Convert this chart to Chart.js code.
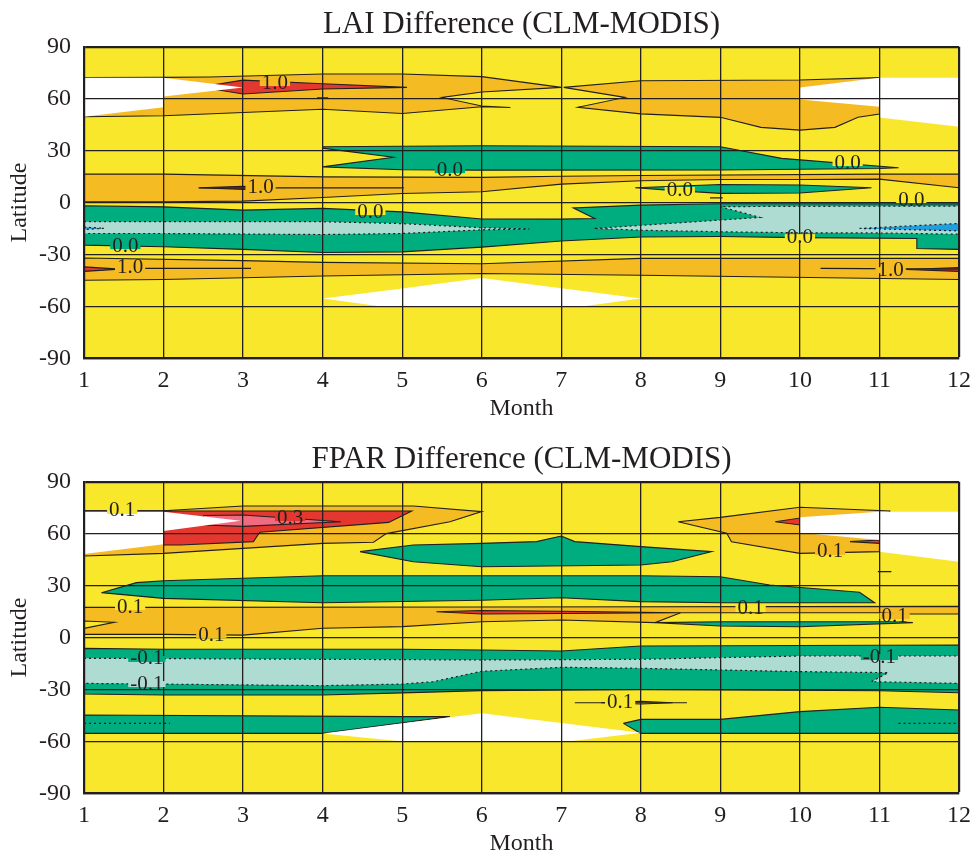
<!DOCTYPE html>
<html>
<head>
<meta charset="utf-8">
<script src="https://cdn.jsdelivr.net/npm/chart.js@4.4.1/dist/chart.umd.min.js"></script>
<style>
  body { margin: 0; background: #fff; overflow: hidden; }
  canvas { display: block; }
</style>
</head>
<body>
<canvas id="lai" width="974" height="435"></canvas>
<canvas id="fpar" width="974" height="435"></canvas>
<script>
// axes
const MONTHS = [1, 2, 3, 4, 5, 6, 7, 8, 9, 10, 11, 12];
const LAT_TICKS = [-90, -60, -30, 0, 30, 60, 90];
const plotFrame = [[1, -90], [12, -90], [12, 90], [1, 90]];

// ---- LAI difference: contour regions as [month, latitude] outlines ----
const laiOrangeNorthWest = [[1, 49.5], [1, 72.2], [2, 72.3], [2.58, 72.5], [4, 74.2], [5, 74.2], [6, 72.7], [7, 66.5], [6, 63.8], [5.5, 60.7], [6, 55.7], [6.36, 54.9], [6, 55.3], [5, 51.4], [4, 53.9], [2, 50.1]];
const laiOrangeNorthEast = [[7.03, 66.5], [8, 70.3], [10, 70.8], [11, 72.1], [11, 51.1], [10.73, 49.2], [10.44, 43.4], [10, 41.8], [9.51, 43.4], [9, 49.2], [8, 51.2], [7.21, 55], [7.8, 60.7]];
const laiOrangeEquator = [[1, 16.4], [2, 16.4], [4, 14.8], [6, 14.5], [7, 15.2], [8, 15.6], [11, 16.4], [12, 16.4], [12, 8.5], [11, 13.5], [10, 13.3], [9, 13.3], [8, 12.6], [7, 10.6], [6, 6.2], [5, 5.2], [4, 2.9], [3, 0.8], [2, 0.4], [1, 0.4]];
const laiOrangeSouth = [[1, -32.1], [3, -33.6], [4, -34.6], [6, -35.4], [8, -32.3], [12, -32.3], [12, -44.5], [8, -42], [6, -41], [4, -42.5], [2, -44.5], [1, -44.9]];
const laiRedNorth = [[2.46, 66.7], [3, 70.7], [4, 68.6], [5.06, 66.5], [4, 65.6], [3, 62.7]];
const laiRedEquator = [[2.45, 8.5], [3, 9.4], [3.4, 8.6], [3, 7.6]];
const laiRedSouthWest = [[1, -37.2], [1.45, -38.5], [1, -39.8]];
const laiRedSouthEast = [[11.34, -38.7], [12, -37.6], [12, -39.8]];
const laiGreenNorth = [[4, 32.2], [6, 32.8], [9, 32.2], [9.77, 25.5], [11.24, 20.1], [11, 19.6], [9, 18.8], [6, 18.7], [5, 18.9], [4, 20.6], [4.89, 26.1], [4, 31.4]];
const laiGreenEquator = [[7.93, 8.5], [9, 10.4], [10, 10.1], [10.9, 8.5], [10, 5.5], [9, 5.3], [8.3, 7.3]];
const laiGreenSouth = [[1, -1.9], [2, -2.5], [3, -4.4], [4, -3.4], [5, -5.4], [6, -9.5], [7, -9.6], [7.42, -9.2], [7.15, -3.1], [8, -1.5], [9, -0.7], [12, -0.8], [12, -27.1], [11.47, -26.6], [11.47, -20.8], [10, -20.3], [9, -19.6], [8, -19.9], [7, -22.2], [6, -25.8], [5, -28.5], [4, -28.9], [3, -27.1], [2, -25.6], [1, -24.6]];
const laiTealWest = [[1, -11.1], [4, -11.1], [5, -12.2], [6, -14.6], [6.6, -15.3], [6, -15.8], [5, -17.9], [4, -18.5], [2, -17.9], [1, -17.9]];
const laiTealEast = [[7.42, -15], [9.5, -8.6], [9, -2.4], [10, -2.2], [12, -2.1], [12, -18.3], [11, -17.6], [10, -17.5], [9, -16.9], [8, -16]];
const laiBlueWest = [[1, -14.2], [1.25, -14.9], [1, -15.6]];
const laiBlueEast = [[10.75, -15], [12, -12.1], [12, -16.4]];
const laiWhiteNorthWest = [[1, 72], [2, 72], [3, 66.5], [2, 61.2], [2, 55], [1, 49.5]];
const laiWhiteNorthEast = [[10, 66.5], [11, 72.1], [12, 72.1], [12, 43.7], [11, 49.1], [11, 55.3], [10, 59.5]];
const laiWhiteSouth = [[4, -55.4], [5, -49.7], [6, -43.6], [8, -55.4], [7.28, -60], [4.72, -60]];
const laiMarks = [
  [[3.93, 60.5], [4.07, 60.5]],
  [[8.87, 2.7], [9.03, 2.7]],
  [[2.44, 8.5], [5.02, 8.5]],
  [[1.4, -38], [3.1, -38.1]],
  [[10.26, -38.1], [12, -38.5]]
];
const laiLabels = [
  ['1.0', 3.4, 69.0], ['1.0', 3.22, 8.9], ['1.0', 1.58, -37.8], ['1.0', 11.14, -39.1],
  ['0.0', 5.6, 18.7], ['0.0', 8.49, 7.2], ['0.0', 10.6, 22.8], ['0.0', 11.4, 1.4],
  ['0.0', 4.6, -5.5], ['0.0', 1.52, -25.2], ['0.0', 10.0, -20]
];

// ---- FPAR difference ----
const fparOrangeNorthWest = [[1, 47.1], [1, 73.2], [2, 73.2], [3, 76], [5.14, 76], [6, 72.7], [5.6, 66.9], [4.8, 60], [4.64, 55], [4, 54.4], [2, 48.6]];
const fparOrangeNorthEast = [[8.47, 66.9], [9, 69.4], [10, 75.2], [11.13, 73.1], [11, 60], [11, 49.6], [10, 48.6], [9.14, 55.3], [9.08, 60.2]];
const fparOrangeEquator = [[1, 17.4], [2, 17.4], [6, 17.6], [12, 18], [12, 13.6], [11.3, 13.6], [11, 14.3], [8.5, 14.3], [8.18, 8.6], [7, 10.1], [6, 9.1], [5, 6.3], [4, 5.3], [3, 1.4], [2, 1.8], [1, 1.8]];
const fparOrangeSouth = [[7.5, -37.7], [8, -36.9], [8.4, -37.7], [8, -38.4]];
const fparYellowWedge = [[1, 9.5], [1.38, 8.8], [1, 5.3]];
const fparRedNorthWest = [[2, 73.1], [5.12, 73.1], [4.83, 66.5], [3.21, 60.8], [3.13, 55.4], [2.21, 53.4], [2, 53.5]];
const fparPinkNorth = [[2.5, 70.5], [3, 70.8], [4.23, 66.9], [3, 64.2], [2.5, 65]];
const fparRedNorthEastA = [[9.69, 66.9], [10, 69], [10, 65]];
const fparRedNorthEastB = [[10.63, 55.4], [11, 56.3], [11, 54.4]];
const fparRedEquator = [[5.43, 14.9], [6, 15.6], [7, 15.2], [8.5, 14.3], [7, 13.9], [6, 13.6]];
const fparGreenNorth = [[4.47, 49.6], [5.14, 53.4], [6, 54.4], [6.69, 55.4], [7, 58.6], [7.17, 55.4], [8, 52.5], [8.89, 49.6], [8.39, 43.8], [8, 41.9], [6, 40.9], [5.14, 43.8]];
const fparGreenMid = [[1.22, 25.9], [1.66, 31.7], [2, 32.8], [4, 35.7], [8, 35.7], [9, 35.1], [9.62, 30.3], [10.75, 26.1], [10.94, 20.1], [9, 20.1], [8, 20.7], [7, 23], [6, 21.5], [4, 20.1], [2, 22.6]];
const fparGreenEquator = [[8.18, 8.6], [9, 9.1], [11.13, 9.1], [11.42, 8.6], [10, 6.2], [9, 6.6]];
const fparGreenSouth = [[1, -6.3], [2, -6.8], [5, -6.8], [6, -7.2], [7, -7.8], [8, -4.9], [12, -4.3], [12, -31.9], [11, -30.8], [8, -30], [6, -30.7], [5, -32], [4, -33.2], [2, -33.2], [1, -32.6]];
const fparTealSouth = [[1, -12], [6, -13], [8, -12.6], [10, -10.7], [12, -10.7], [12, -26.5], [10.9, -25.5], [11.11, -20.3], [10, -19.7], [8, -17.8], [7, -17.2], [6, -19.5], [5.39, -25.5], [5, -26.9], [4, -27.8], [1, -26.5]];
const fparGreenSouthWest = [[1, -44.8], [5, -45.7], [5.6, -45.7], [4, -55.4], [1, -55.4]];
const fparGreenSouthEast = [[7.78, -49.6], [8, -47.3], [9, -47.3], [10, -42.8], [11, -40.3], [12, -41.9], [12, -55.4], [8, -55.4]];
const fparWhiteNorthWest = [[1, 72.7], [2, 72.7], [2.97, 67.5], [2, 61.5], [2, 53.8], [1, 48.2]];
const fparWhiteNorthEast = [[10, 69.4], [11, 72.7], [12, 72.7], [12, 43.8], [11, 49.6], [11, 56.3], [10, 60.5]];
const fparWhiteSouth = [[4, -55.4], [5, -49.6], [6, -43.8], [8, -55], [7.11, -60], [4.98, -60]];
const fparMarks = [
  [[1, 73.2], [2.1, 73.2]],
  [[10.98, 38], [11.15, 38]],
  [[7.17, -37.7], [8.58, -37.7]]
];
const fparDashed = [
  [[1, -49.6], [2.08, -49.6]],
  [[11.24, -49.6], [12, -49.6]]
];
const fparLabels = [
  ['0.1', 1.48, 73.1], ['0.3', 3.59, 69.0], ['0.1', 1.58, 17.6], ['0.1', 2.6, 1.4],
  ['-0.1', 1.79, -12.4], ['-0.1', 1.79, -26.9], ['0.1', 9.38, 16.5], ['0.1', 11.19, 12.4],
  ['0.1', 10.38, 49.4], ['-0.1', 11.0, -11.3], ['0.1', 7.74, -37.3]
];

const SERIF = '"Liberation Serif", "Times New Roman", Times, serif';
const INK = '#231f20';
const COL = {
  yellow: '#f9e72c',
  orange: '#f5bb22',
  red: '#e4372f',
  pink: '#f06a80',
  green: '#00ad7e',
  teal: '#aedcd3',
  blue: '#1f9fe0',
  white: '#ffffff'
};

const toXY = pts => pts.map(p => ({ x: p[0], y: p[1] }));

// filled contour region, closed back onto its first vertex
function region(pts, color, opts) {
  return Object.assign({
    data: toXY(pts.concat([pts[0]])),
    showLine: true,
    fill: 'shape',
    backgroundColor: color,
    borderColor: INK,
    borderWidth: 1.1,
    pointRadius: 0,
    tension: 0
  }, opts || {});
}

function contourLine(pts, dashed) {
  return {
    data: toXY(pts),
    showLine: true,
    fill: false,
    borderColor: INK,
    borderWidth: 1.2,
    borderDash: dashed ? [2, 3] : [],
    pointRadius: 0,
    tension: 0
  };
}

const noEdge = { borderColor: 'rgba(0,0,0,0)' };
const dashedEdge = { borderDash: [2, 3], borderWidth: 1.2 };

// text on the contour lines; the line is broken under the text,
// like the original plot, by painting the surrounding fill colour first
const contourLabels = {
  id: 'contourLabels',
  afterDraw(chart, args, opts) {
    const { ctx } = chart;
    const x = chart.scales.x, y = chart.scales.y;
    const W = chart.width;
    const img = ctx.getImageData(0, 0, W, chart.height).data;
    const sample = (px, py) => {
      const i = (Math.round(py) * W + Math.round(px)) * 4;
      return [img[i], img[i + 1], img[i + 2]];
    };
    ctx.save();
    ctx.font = '21px ' + SERIF;
    ctx.textAlign = 'center';
    ctx.textBaseline = 'middle';
    (opts.items || []).forEach(([t, m, lat]) => {
      const cx = x.getPixelForValue(m), cy = y.getPixelForValue(lat);
      const w = ctx.measureText(t).width;
      const counts = {};
      [-0.5, -0.25, 0, 0.25, 0.5].forEach(f => {
        [-7, -5, 5, 7].forEach(dy => {
          const c = sample(cx + f * w, cy + dy);
          if (c[0] + c[1] + c[2] < 260) return; // skip line pixels
          const k = c.join(',');
          counts[k] = (counts[k] || 0) + 1;
        });
      });
      const keys = Object.keys(counts).sort((a, b) => counts[b] - counts[a]);
      if (keys.length) {
        ctx.fillStyle = 'rgb(' + keys[0] + ')';
        ctx.fillRect(cx - w / 2 - 2, cy - 3, w + 4, 6);
      }
      ctx.fillStyle = INK;
      ctx.fillText(t, cx, cy);
    });
    ctx.restore();
  }
};

function makePanel(id, title, datasets, labels) {
  // first in the list is drawn first (bottom)
  datasets.forEach((d, i) => { d.order = datasets.length - i; });
  return new Chart(document.getElementById(id), {
    type: 'scatter',
    data: { datasets },
    options: {
      responsive: false,
      devicePixelRatio: 1,
      animation: false,
      events: [],
      layout: { padding: { left: 0, right: 15, top: 0, bottom: 0 } },
      plugins: {
        legend: { display: false },
        tooltip: { enabled: false },
        title: {
          display: true,
          fullSize: false,
          text: title,
          color: INK,
          font: { family: SERIF, size: 31, weight: 'normal' },
          padding: { top: 6.5, bottom: 3 }
        },
        contourLabels: { items: labels }
      },
      scales: {
        x: {
          type: 'linear',
          min: 1,
          max: 12,
          afterBuildTicks: s => { s.ticks = MONTHS.map(v => ({ value: v })); },
          afterFit: s => { s.height = 76.7; s.paddingRight = 15; s.paddingLeft = 0; },
          grid: {
            color: INK,
            lineWidth: c => (c.tick && c.tick.value === 12) ? 2.2 : 1.3,
            drawTicks: false,
            z: 1
          },
          border: { color: INK, width: 2.2, z: 1 },
          ticks: {
            color: INK,
            font: { family: SERIF, size: 24 },
            padding: 8,
            maxRotation: 0,
            autoSkip: false
          },
          title: {
            display: true,
            text: 'Month',
            color: INK,
            font: { family: SERIF, size: 24 },
            padding: { top: 0, bottom: 11.5 }
          }
        },
        y: {
          type: 'linear',
          min: -90,
          max: 90,
          afterBuildTicks: s => { s.ticks = LAT_TICKS.map(v => ({ value: v })); },
          afterFit: s => { s.width = 84; },
          grid: {
            color: INK,
            lineWidth: c => (c.tick && c.tick.value === 90) ? 2.2 : 1.3,
            drawTicks: false,
            z: 1
          },
          border: { color: INK, width: 2.2, z: 1 },
          ticks: {
            color: INK,
            font: { family: SERIF, size: 24 },
            padding: 13,
            autoSkip: false
          },
          title: {
            display: true,
            text: 'Latitude',
            color: INK,
            font: { family: SERIF, size: 24 },
            padding: { top: 5.6, bottom: 0 }
          }
        }
      }
    },
    plugins: [contourLabels]
  });
}

makePanel('lai', 'LAI Difference (CLM-MODIS)', [
  region(plotFrame, COL.yellow, noEdge),
  region(laiOrangeNorthWest, COL.orange),
  region(laiOrangeNorthEast, COL.orange),
  region(laiOrangeEquator, COL.orange),
  region(laiOrangeSouth, COL.orange),
  region(laiRedNorth, COL.red),
  region(laiRedEquator, COL.red),
  region(laiRedSouthWest, COL.red),
  region(laiRedSouthEast, COL.red),
  region(laiGreenNorth, COL.green),
  region(laiGreenEquator, COL.green),
  region(laiGreenSouth, COL.green),
  region(laiTealWest, COL.teal, dashedEdge),
  region(laiTealEast, COL.teal, dashedEdge),
  region(laiBlueWest, COL.blue, dashedEdge),
  region(laiBlueEast, COL.blue, dashedEdge),
  region(laiWhiteNorthWest, COL.white, noEdge),
  region(laiWhiteNorthEast, COL.white, noEdge),
  region(laiWhiteSouth, COL.white, noEdge)
].concat(laiMarks.map(m => contourLine(m, false))), laiLabels);

makePanel('fpar', 'FPAR Difference (CLM-MODIS)', [
  region(plotFrame, COL.yellow, noEdge),
  region(fparOrangeNorthWest, COL.orange),
  region(fparOrangeNorthEast, COL.orange),
  region(fparOrangeEquator, COL.orange),
  region(fparOrangeSouth, COL.orange),
  region(fparYellowWedge, COL.yellow),
  region(fparRedNorthWest, COL.red),
  region(fparPinkNorth, COL.pink),
  region(fparRedNorthEastA, COL.red),
  region(fparRedNorthEastB, COL.red),
  region(fparRedEquator, COL.red),
  region(fparGreenNorth, COL.green),
  region(fparGreenMid, COL.green),
  region(fparGreenEquator, COL.green),
  region(fparGreenSouth, COL.green),
  region(fparTealSouth, COL.teal, dashedEdge),
  region(fparGreenSouthWest, COL.green),
  region(fparGreenSouthEast, COL.green),
  region(fparWhiteNorthWest, COL.white, noEdge),
  region(fparWhiteNorthEast, COL.white, noEdge),
  region(fparWhiteSouth, COL.white, noEdge)
].concat(fparMarks.map(m => contourLine(m, false)))
 .concat(fparDashed.map(m => contourLine(m, true))), fparLabels);
</script>
</body>
</html>
